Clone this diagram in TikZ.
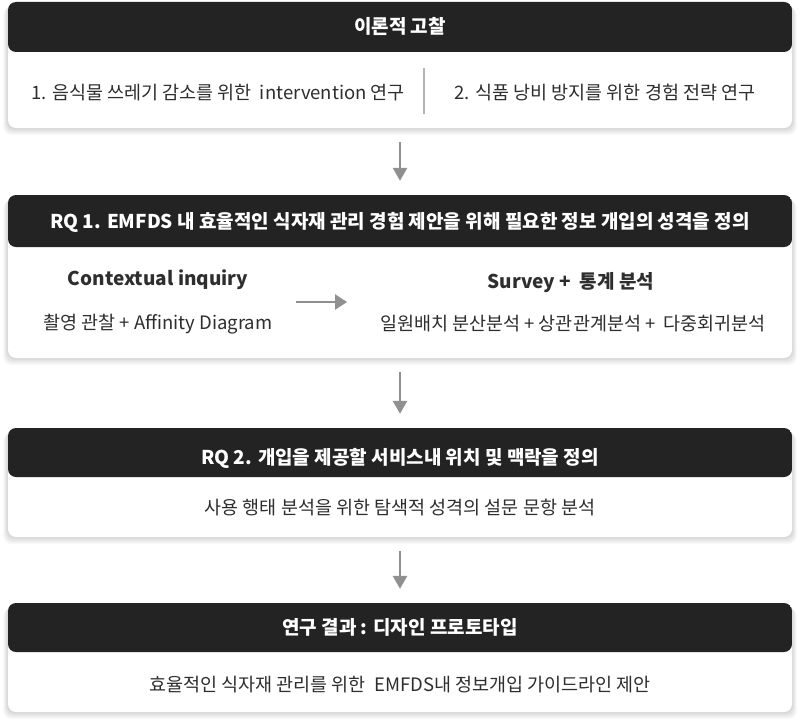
\documentclass[tikz,border=0pt]{standalone}
\usepackage{fontspec}
\setmainfont{Noto Sans CJK KR}
\usetikzlibrary{positioning,arrows.meta}

\definecolor{hdrgray}{HTML}{232323}
\definecolor{txtgray}{HTML}{2E2E2E}
\definecolor{arrgray}{HTML}{909090}
\definecolor{divgray}{HTML}{B4B4B4}

% soft shadow under a box: top, bottom
\newcommand{\softshade}[2]{%
  \foreach \k in {1,...,8}
    \fill[black, opacity=0.018, rounded corners=8pt]
      (8-0.6*\k, #1+2+0.4*\k) rectangle (792+0.6*\k, #2+0.9*\k);
}

\tikzset{
  stagebox/.style={draw=none, fill=white, rounded corners=8pt, minimum width=784pt,
    path picture={\fill[hdrgray] (path picture bounding box.north west) rectangle
      ([yshift=-#1]path picture bounding box.north east);}},
  headtext/.style={text=white, font=\fontsize{19}{22}\selectfont\bfseries},
  bodytext/.style={text=txtgray, font=\fontsize{18.5}{22}\selectfont},
  subhead/.style={text=txtgray, font=\fontsize{19}{22}\selectfont\bfseries},
  flow/.style={draw=arrgray, line width=2.6pt, -{Triangle[width=14pt,length=13pt]},
    shorten <=14pt, shorten >=14pt},
}

\begin{document}
\begin{tikzpicture}[x=1pt, y=-1pt]
    \useasboundingbox[fill=white] (0,0) rectangle (800,725);

    % Shadows
    \softshade{2}{128}
    \softshade{195}{358}
    \softshade{428}{537}
    \softshade{603}{712}

    % Stage boxes
    \node[stagebox=50pt, minimum height=126pt] (theory) at (400,65) {};
    \node[stagebox=52pt, minimum height=163pt] (rqone) at (400,276.5) {};
    \node[stagebox=49pt, minimum height=109pt] (rqtwo) at (400,482.5) {};
    \node[stagebox=49pt, minimum height=109pt] (result) at (400,657.5) {};

    % Theory
    \node[headtext] (theoryhead) at (400,26) {이론적 고찰};
    \node[bodytext] (theoryleft) at (218,93) {1. 음식물 쓰레기 감소를 위한 \ intervention 연구};
    \node[bodytext] (theoryright) at (605,93) {2. 식품 낭비 방지를 위한 경험 전략 연구};
    \draw[divgray, line width=1.2pt] (424,68) -- (424,114);

    % RQ 1
    \node[headtext] (rqonehead) at (400,222) {RQ 1. EMFDS 내 효율적인 식자재 관리 경험 제안을 위해 필요한 정보 개입의 성격을 정의};
    \node[subhead] (inquiry) at (158,280) {Contextual inquiry};
    \node[bodytext] (inquirysub) at (158,324) {촬영 관찰 + Affinity Diagram};
    \node[subhead] (survey) at (571,283) {Survey + \ 통계 분석};
    \node[bodytext] (surveysub) at (573,324) {일원배치 분산분석 + 상관관계분석 + \ 다중회귀분석};
    \coordinate (midA) at (296,302);
    \coordinate (midB) at (347,302);
    \draw[draw=arrgray, line width=2.6pt, -{Triangle[width=15pt,length=12pt]}] (midA) -- (midB);

    % RQ 2
    \node[headtext] (rqtwohead) at (400,458) {RQ 2. 개입을 제공할 서비스내 위치 및 맥락을 정의};
    \node[bodytext] (rqtwobody) at (400,508) {사용 행태 분석을 위한 탐색적 성격의 설문 문항 분석};

    % Result
    \node[headtext] (resulthead) at (400,627) {연구 결과 : 디자인 프로토타입};
    \node[bodytext] (resultbody) at (400,685) {효율적인 식자재 관리를 위한 \ EMFDS내 정보개입 가이드라인 제안};

    % Flow arrows
    \draw[flow] (theory.south) -- (rqone.north);
    \draw[flow] (rqone.south) -- (rqtwo.north);
    \draw[flow] (rqtwo.south) -- (result.north);
\end{tikzpicture}
\end{document}
